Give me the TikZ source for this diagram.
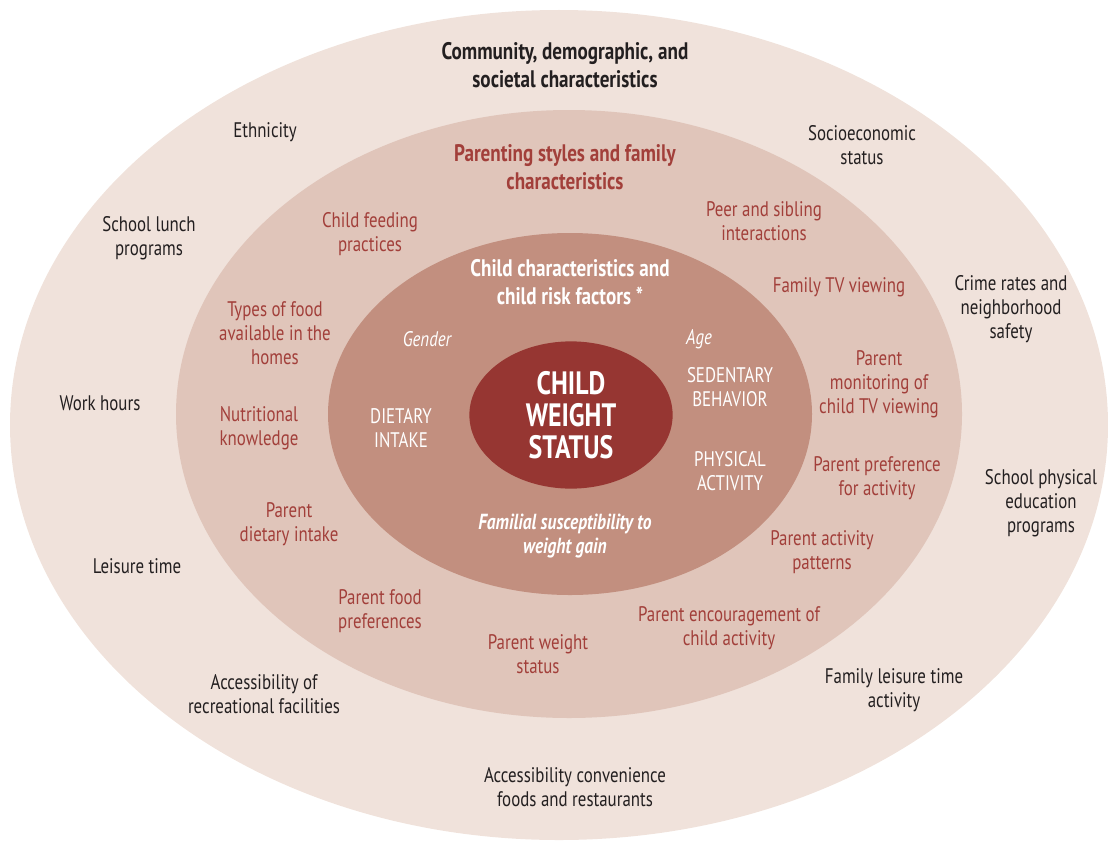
\documentclass[tikz,border=0pt]{standalone}
\usepackage{fontspec}
\setmainfont[FakeStretch=0.8]{PT Sans}
\usetikzlibrary{shapes.geometric}
\definecolor{outerfill}{HTML}{F0E2DB}
\definecolor{midfill}{HTML}{E0C5BA}
\definecolor{innerfill}{HTML}{C28F7F}
\definecolor{corefill}{HTML}{963632}
\definecolor{midred}{HTML}{A23F3A}
\definecolor{darktext}{HTML}{231F20}
\begin{document}
\begin{tikzpicture}[x=0.025cm, y=-0.025cm,
	outertext/.style={align=center, text=darktext, font=\fontsize{15}{17}\selectfont},
	midtext/.style={align=center, text=midred, font=\fontsize{15}{17}\selectfont},
	innertext/.style={align=center, text=white, font=\fontsize{15}{17}\selectfont},
	headtext/.style={align=center, font=\bfseries\fontsize{17}{19.8}\selectfont}]
		\useasboundingbox (0, 0) rectangle (1108, 841);
		
		% rings
		\fill[outerfill] (559, 425) ellipse [x radius=549, y radius=415];
		\fill[midfill] (569, 414) ellipse [x radius=393, y radius=304];
		\fill[innerfill] (570, 414) ellipse [x radius=242, y radius=181];
		\node[ellipse, fill=corefill, minimum width=5.08cm, minimum height=3.68cm, inner sep=0pt,
			align=center, text=white, font=\bfseries\fontsize{23}{22.7}\selectfont] (core) at (571, 415) {CHILD\\WEIGHT\\STATUS};
		
		% outer ring
		\node[headtext, text=darktext] (community) at (565, 65) {Community, demographic, and\\societal characteristics};
		\node[outertext] (ethnicity) at (265, 132) {Ethnicity};
		\node[outertext] (socio) at (862, 145) {Socioeconomic\\status};
		\node[outertext] (lunch) at (149, 238) {School lunch\\programs};
		\node[outertext] (crime) at (1011, 309) {Crime rates and\\neighborhood\\safety};
		\node[outertext] (work) at (100, 403) {Work hours};
		\node[outertext] (schoolpe) at (1041, 503) {School physical\\education\\programs};
		\node[outertext] (leisure) at (137, 566) {Leisure time};
		\node[outertext] (recfac) at (264, 694) {Accessibility of\\recreational facilities};
		\node[outertext] (famleisure) at (894, 690) {Family leisure time\\activity};
		\node[outertext] (convfood) at (575, 787) {Accessibility convenience\\foods and restaurants};
		
		% middle ring
		\node[headtext, text=midred] (parenting) at (565, 167) {Parenting styles and family\\characteristics};
		\node[midtext] (feeding) at (370, 234) {Child feeding\\practices};
		\node[midtext] (peer) at (764, 221) {Peer and sibling\\interactions};
		\node[midtext] (famtv) at (839, 287) {Family TV viewing};
		\node[midtext] (foodtypes) at (275, 333) {Types of food\\available in the\\homes};
		\node[midtext] (tvmonitor) at (879, 384) {Parent\\monitoring of\\child TV viewing};
		\node[midtext] (nutrition) at (259, 428) {Nutritional\\knowledge};
		\node[midtext] (actpref) at (877, 478) {Parent preference\\for activity};
		\node[midtext] (pdiet) at (289, 524) {Parent\\dietary intake};
		\node[midtext] (pactivity) at (822, 552) {Parent activity\\patterns};
		\node[midtext] (foodpref) at (380, 611) {Parent food\\preferences};
		\node[midtext] (encourage) at (729, 628) {Parent encouragement of\\child activity};
		\node[midtext] (pweight) at (538, 654) {Parent weight\\status};
		
		% inner ring
		\node[headtext, text=white] (childchar) at (570, 282) {Child characteristics and\\child risk factors *};
		\node[innertext, font=\itshape\fontsize{15}{17}\selectfont] (gender) at (427, 339) {Gender};
		\node[innertext, font=\itshape\fontsize{15}{17}\selectfont] (age) at (699, 339) {Age};
		\node[innertext] (dietary) at (401, 428) {DIETARY\\INTAKE};
		\node[innertext] (sedentary) at (730, 387) {SEDENTARY\\BEHAVIOR};
		\node[innertext] (physical) at (730, 471) {PHYSICAL\\ACTIVITY};
		\node[innertext, font=\bfseries\itshape\fontsize{15.5}{17.7}\selectfont] (familial) at (565, 536) {Familial susceptibility to\\weight gain};
	\end{tikzpicture}
\end{document}
